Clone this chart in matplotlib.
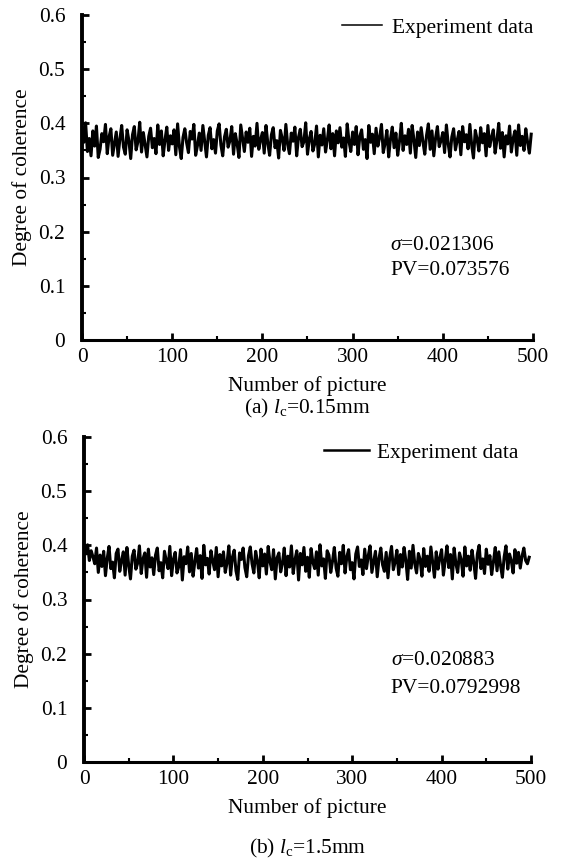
import numpy as np
import matplotlib
matplotlib.use("Agg")
import matplotlib.pyplot as plt
from matplotlib.ticker import MultipleLocator

plt.rcParams['font.family'] = ['Liberation Serif', 'DejaVu Serif']
plt.rcParams['mathtext.fontset'] = 'custom'
plt.rcParams['mathtext.rm'] = 'Liberation Serif'
plt.rcParams['mathtext.it'] = 'Liberation Serif:italic'

# Degree of coherence (x1000)
coh_a = [
392,365,401,348,372,340,386,358,395,337,
352,381,366,398,344,375,390,341,362,384,
339,371,396,356,343,388,368,335,379,394,
351,366,402,347,383,360,338,376,391,355,
372,344,397,361,386,340,369,393,350,377,
362,388,342,399,357,335,374,390,364,346,
385,371,398,341,359,382,350,396,367,338,
378,392,353,370,345,386,399,360,340,375,
389,356,368,394,343,381,362,337,397,372,
348,384,365,391,339,376,358,400,352,370,
383,345,396,363,341,379,392,355,368,336,
387,372,350,398,361,344,382,367,393,340,
374,389,357,366,401,343,371,385,349,362,
395,338,378,360,390,347,369,397,353,381,
340,386,364,392,356,373,339,399,367,348,
384,361,394,342,376,388,352,370,335,396,
365,380,344,391,358,374,398,346,363,387,
338,371,393,355,382,341,367,400,350,377,
361,389,345,396,370,337,384,359,392,366,
343,378,399,352,386,340,373,394,357,368,
383,346,397,362,338,375,390,351,369,385,
342,394,366,379,353,398,360,336,387,371,
349,392,364,381,340,396,357,374,388,345,
369,400,354,383,338,377,362,395,347,372,
386,341,397,359,376,350,390,365,345,380,
]
coh_b = [
398,384,401,372,390,379,366,395,350,382,
361,389,344,376,398,357,369,340,385,393,
352,372,388,345,396,363,338,380,391,356,
367,399,348,375,386,341,393,360,377,346,
382,395,353,368,340,389,372,357,398,344,
374,387,349,361,392,336,379,366,397,351,
385,343,370,394,358,381,339,400,364,376,
347,390,371,355,396,342,383,362,388,350,
368,399,345,378,391,353,337,386,374,395,
359,342,381,397,366,349,389,371,340,393,
362,384,347,398,370,355,392,338,377,386,
351,367,395,344,380,360,399,348,373,390,
336,385,364,396,352,378,341,394,369,357,
388,345,401,362,375,339,390,382,350,371,
396,358,343,387,366,400,349,379,392,355,
368,338,384,397,361,373,346,393,357,381,
399,350,370,389,342,376,395,364,352,387,
340,378,398,355,369,391,346,383,360,396,
372,337,389,358,400,366,349,385,374,343,
394,361,380,352,397,369,341,388,356,377,
392,345,371,399,359,383,338,395,366,350,
386,373,343,397,362,380,354,391,368,339,
384,400,357,375,348,393,365,381,346,370,
396,353,388,362,341,379,399,356,384,371,
349,392,367,387,358,380,395,372,366,378,
]
picture_a = np.arange(len(coh_a)) * 2.0
picture_b = np.arange(len(coh_b)) * 2.0

stats_a = ("$\\sigma$=0.021306", "PV=0.073576")
stats_b = ("$\\sigma$=0.020883", "PV=0.0792998")
captions = ("(a) $l_{\\mathrm{c}}$=0.15mm", "(b) $l_{\\mathrm{c}}$=1.5mm")
yticks = [0, 0.1, 0.2, 0.3, 0.4, 0.5, 0.6]
ytick_labels = ["0", "0.1", "0.2", "0.3", "0.4", "0.5", "0.6"]
xticks = [0, 100, 200, 300, 400, 500]

FS = 15.4
fig = plt.figure(figsize=(5.64, 8.64), dpi=100)
ax_a = fig.add_axes([82/564, 1-340/864, 451/564, 325/864])
ax_b = fig.add_axes([84/564, 1-762/864, 447/564, 325/864])

panels = [
    (ax_a, picture_a, coh_a, stats_a, captions[0], 1.1, (1.0, 0.96), 1.87, 0.47,
     (0.683, 0.292, 0.215), -0.212),
    (ax_b, picture_b, coh_b, stats_b, captions[1], 1.8, (0.972, 0.951), 2.1, 0.37,
     (0.686, 0.311, 0.225), -0.265),
]
for ax, x, y, stats, cap, leglw, anchor, hl, htp, spos, capy in panels:
    yv = np.array(y) / 1000.0
    ax.plot(x, yv, color='black', lw=2.2, label='Experiment data')
    ax.set_xlim(0, 500)
    ax.set_ylim(0, 0.6)
    ax.set_xticks(xticks)
    ax.set_yticks(yticks)
    ax.set_yticklabels(ytick_labels)
    ax.xaxis.set_minor_locator(MultipleLocator(50))
    ax.yaxis.set_minor_locator(MultipleLocator(0.05))
    ax.tick_params(direction='in', which='major', length=5, width=2, labelsize=FS)
    ax.tick_params(axis='y', which='major', pad=12)
    ax.tick_params(axis='x', which='major', pad=6)
    ax.tick_params(direction='in', which='minor', length=3, width=1.5)
    for s in ['top', 'right']:
        ax.spines[s].set_visible(False)
    ax.spines['left'].set_linewidth(2.8)
    ax.spines['bottom'].set_linewidth(2.2)
    ax.set_xlabel('Number of picture', fontsize=FS, labelpad=6)
    ax.set_ylabel('Degree of coherence', fontsize=FS, labelpad=5)
    leg = ax.legend(loc='center right', bbox_to_anchor=anchor, frameon=False, fontsize=FS,
                    handlelength=hl, handletextpad=htp, borderaxespad=0, borderpad=0)
    for h in leg.get_lines():
        h.set_linewidth(leglw)
    ax.text(spos[0], spos[1], stats[0], transform=ax.transAxes, fontsize=FS, va='center')
    ax.text(spos[0], spos[2], stats[1], transform=ax.transAxes, fontsize=FS, va='center')
    ax.text(0.5, capy, cap, transform=ax.transAxes, fontsize=FS, ha='center', va='center')

fig.savefig('out.png', dpi=100)
